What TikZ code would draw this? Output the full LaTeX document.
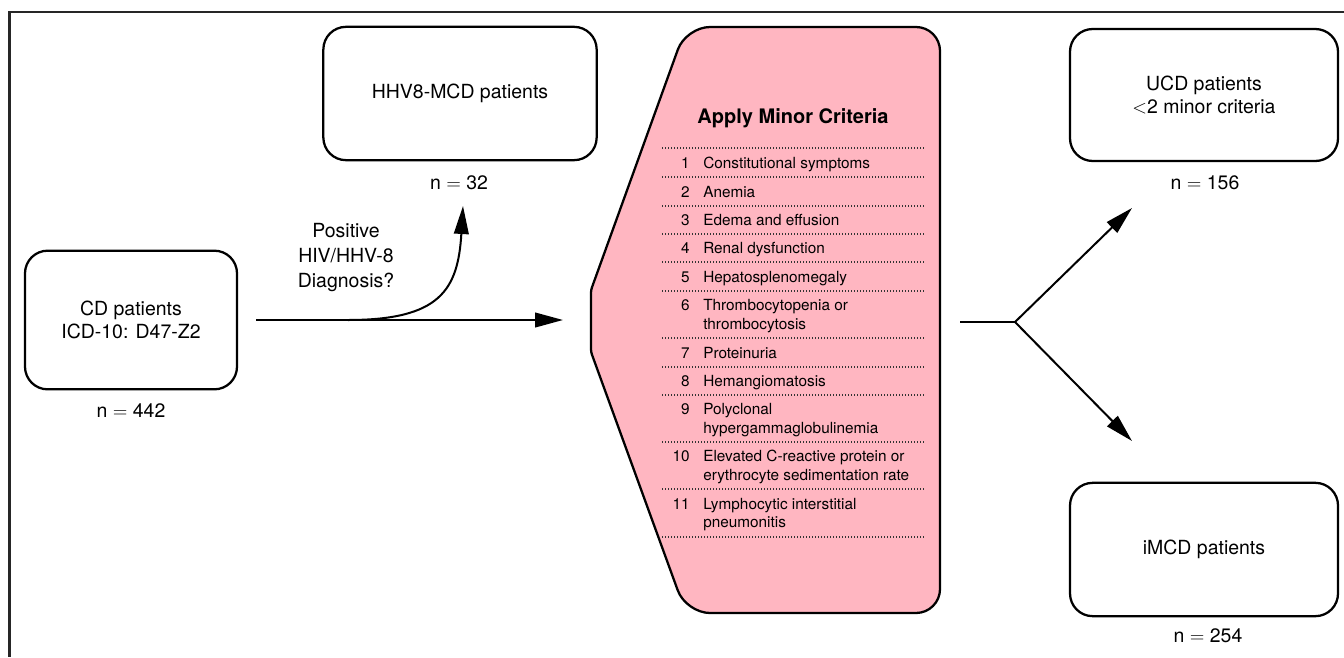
\documentclass[tikz,border=0pt]{standalone}
\usepackage{fontspec}
\setmainfont{TeX Gyre Heros}
\usetikzlibrary{arrows.meta}
\definecolor{critpink}{RGB}{255,182,193}

\begin{document}
\begin{tikzpicture}[x=0.75pt,y=-0.75pt,
  box/.style={draw,line width=1.7pt,rounded corners=17pt,align=center,
    font=\fontsize{14.6}{17.4}\selectfont},
  count/.style={font=\fontsize{14.6}{17.4}\selectfont},
  item/.style={inner sep=0pt,align=left,font=\fontsize{11.5}{14}\selectfont},
  sep/.style={line width=0.9pt,black!80,dash pattern=on 0.9pt off 1.35pt},
  arr/.style={line width=1.5pt,-{Triangle[length=21pt,width=11pt]}}]
\useasboundingbox (0,0) rectangle (1344,657);
\draw[line width=1.7pt,black!85] (1344,12) -- (9.5,12) -- (9.5,657);

% boxes
\node[box,minimum width=159pt,minimum height=104pt] (cd) at (131,320) {CD patients\\ICD-10: D47-Z2};
\node[count] (ncd) at (131,411) {n $=$ 442};
\node[box,minimum width=205pt,minimum height=100pt] (hhv) at (460,93.5) {HHV8-MCD patients};
\node[count] (nhhv) at (459,183) {n $=$ 32};
\node[box,minimum width=201pt,minimum height=99pt] (ucd) at (1204,95) {UCD patients\\$<$2 minor criteria};
\node[count] (nucd) at (1205,183) {n $=$ 156};
\node[box,minimum width=201pt,minimum height=100pt] (imcd) at (1204,549.5) {iMCD patients};
\node[count] (nimcd) at (1208,636) {n $=$ 254};
\node[align=center,font=\fontsize{14.6}{18.4}\selectfont] (ask) at (346,257.5) {Positive\\HIV/HHV-8\\Diagnosis?};

% minor criteria
\draw[line width=1.7pt,fill=critpink,rounded corners=18pt] (813,27) -- (940,27) -- (940,613) -- (686,613)
  {[rounded corners=2pt] -- (591,352) -- (591,290)} -- (686,27) -- cycle;
\node[font=\fontsize{15}{18}\selectfont\bfseries] (crit) at (793,118) {Apply Minor Criteria};
\foreach \y in {148,177,206,234,262,291,338,367,395,442,489,537}
  \draw[sep] (662,\y) -- (925,\y);
% first and last baseline of each item
\foreach \y/\yl/\k/\txt in {168/168/1/Constitutional symptoms,197/197/2/Anemia,
    225.5/225.5/3/Edema and effusion,253.5/253.5/4/Renal dysfunction,282/282/5/Hepatosplenomegaly,
    310.6/329.3/6/{Thrombocytopenia or\\thrombocytosis},358/358/7/Proteinuria,
    386.5/386.5/8/Hemangiomatosis,414.6/433.3/9/{Polyclonal\\hypergammaglobulinemia},
    461.6/480.3/10/{Elevated C-reactive protein or\\erythrocyte sedimentation rate},
    509.1/527.8/11/{Lymphocytic interstitial\\pneumonitis}}{
  \node[item,anchor=base east] (num\k) at (690,\y) {\k};
  \node[item,anchor=base west] (crit\k) at (703,\yl) {\txt};
}

% connectors
\coordinate (critin) at (591,320);
\coordinate (bend) at (348,320);
\coordinate (hhvtip) at (463,206);
\coordinate (critout) at (960,322);
\coordinate (fork) at (1015,322);
\coordinate (ucdtip) at (1132,208);
\coordinate (imcdtip) at (1132,441);
\draw[arr,shorten <=13.5pt,shorten >=21pt] (cd.east) -- (critin);
\draw[arr] (bend) .. controls (440,320) and (458,290) .. (hhvtip);
\draw[line width=1.5pt] (critout) -- (fork);
\draw[arr] (fork) -- (ucdtip);
\draw[arr] (fork) -- (imcdtip);
\end{tikzpicture}
\end{document}
